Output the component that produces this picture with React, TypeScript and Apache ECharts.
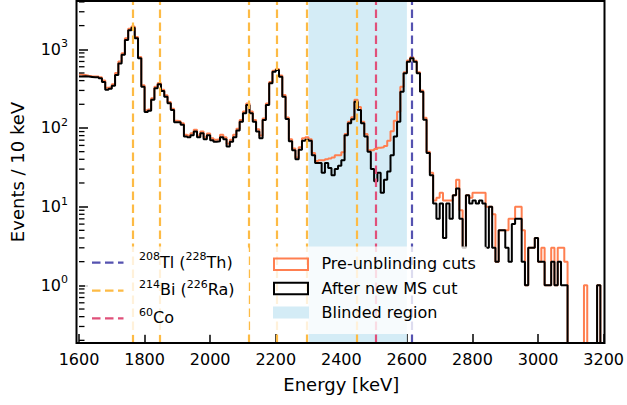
import React, { useEffect, useRef } from "react";
import * as echarts from "echarts";

const X_MIN = 1600;
const X_MAX = 3200;
const BIN_WIDTH = 10;
const Y_MIN = 0.185;
const Y_MAX = 4110;

// Events per 10 keV bin, 1600-3200 keV (160 bins), after new MS cut
const afterMsCut = [
  450, 455, 450, 445, 440, 440, 430, 385, 305, 315,
  345, 470, 660, 850, 1310, 1750, 1880, 1380, 770, 335,
  160, 165, 228, 320, 360, 295, 250, 206, 169, 118,
  118, 110, 78, 76, 81, 90, 76, 86, 72, 81,
  70, 67, 68, 76, 72, 58, 67, 76, 93, 120,
  154, 196, 154, 120, 90, 74, 126, 196, 370, 519,
  545, 449, 250, 130, 68, 52, 40, 53, 69, 71,
  69, 45, 36, 36, 27, 36, 31, 25, 30, 33,
  39, 81, 115, 129, 216, 169, 115, 78, 50, 30,
  21, 27, 15, 22, 28, 45, 78, 120, 289, 495,
  697, 769, 697, 495, 289, 127, 48, 25, 11, 7,
  11, 4, 11, 7, 14, 17, 7, 3, 14, 11,
  12, 11, 12, 11, 3, 10, 3, 2, 5, 5,
  3, 2, 6, 7, 7, 2, 1, 3, 3, 4,
  2, 2, 1, 1, 2, 1, 2, 1, 1, 0,
  0, 0, 0, 0, 0, 0, 0, 0, 1, 0,
];

// Events per 10 keV bin, pre-unblinding cuts
const preUnblinding = [
  480, 470, 462, 455, 450, 450, 440, 400, 325, 330,
  360, 500, 700, 890, 1380, 1820, 1950, 1430, 800, 350,
  168, 172, 238, 333, 372, 305, 260, 214, 176, 124,
  122, 115, 82, 80, 86, 95, 80, 90, 76, 85,
  74, 71, 72, 82, 76, 63, 71, 82, 98, 126,
  162, 205, 162, 126, 96, 80, 132, 205, 385, 535,
  560, 465, 262, 136, 72, 55, 42, 57, 74, 76,
  72, 48, 38, 39, 39, 40, 41, 42, 45, 45,
  49, 84, 120, 137, 228, 185, 120, 84, 52, 52,
  54, 56, 57, 59, 69, 91, 124, 161, 335, 510,
  720, 790, 715, 510, 300, 135, 50, 27, 12, 13,
  15, 12, 12, 12, 14, 22, 9, 3, 14, 13,
  15, 15, 15, 15, 10, 10, 8, 2, 5, 5,
  5, 7, 7, 10, 10, 5, 1, 3, 3, 4,
  2, 3, 1, 1, 3, 1, 3, 3, 2, 0,
  0, 0, 0, 0, 1, 0, 0, 0, 1, 0,
];

const tlLines = [2614.5];
const biLines = [1764.5, 1847.4, 2118.5, 2204.2, 2293.4, 2447.9];
const coLines = [2505.7];
const blindedRegion = [2300, 2600];

const yMinorTicks = [
  0.2, 0.3, 0.4, 0.5, 0.6, 0.7, 0.8, 0.9,
  2, 3, 4, 5, 6, 7, 8, 9,
  20, 30, 40, 50, 60, 70, 80, 90,
  200, 300, 400, 500, 600, 700, 800, 900,
  2000, 3000, 4000,
];

const FONT = "DejaVu Sans";
const C_TL = "#5552b0";
const C_BI = "#fdbb45";
const C_CO = "#e0507a";
const C_PRE = "#ff7f50";
const C_POST = "#000000";
const C_BLIND = "#d4ecf6";
const DASH = [8.5, 4.5];

const FLOOR = 1e-3;

function histPoints(values: number[]) {
  const pts = values.map((v, i) => [X_MIN + i * BIN_WIDTH, v > 0 ? v : FLOOR]);
  const last = values[values.length - 1];
  pts.push([X_MIN + values.length * BIN_WIDTH, last > 0 ? last : FLOOR]);
  return pts;
}

const GRID = { left: 76.5, top: 1, width: 528, height: 342 };

const supRich = {
  m: { fontSize: 16, lineHeight: 22, fontFamily: FONT, color: "#000" },
  s: { fontSize: 11, lineHeight: 8, verticalAlign: "top", fontFamily: FONT, color: "#000" },
};

export default function App() {
  const ref = useRef<HTMLDivElement>(null);

  useEffect(() => {
    document.body.style.margin = "0";
    if (!ref.current) return;
    const chart = echarts.init(ref.current, undefined, { renderer: "svg" });

    const vLine = (x: number, color: string) => ({
      xAxis: x,
      lineStyle: { color, type: DASH, width: 2.2, opacity: 1 },
    });

    const option: any = {
      animation: false,
      textStyle: { fontFamily: FONT },
      grid: { ...GRID, containLabel: false },
      xAxis: {
        type: "value",
        min: X_MIN,
        max: X_MAX,
        interval: 200,
        name: "Energy [keV]",
        nameLocation: "middle",
        nameGap: 32,
        nameTextStyle: { fontSize: 18, color: "#000", fontFamily: FONT },
        axisLine: { show: false },
        axisTick: { show: true, inside: true, length: 9, lineStyle: { color: "#000", width: 1.5 } },
        axisLabel: {
          fontSize: 16,
          color: "#000",
          margin: 8,
          fontFamily: FONT,
          formatter: (v: number) => String(v),
        },
        splitLine: { show: false },
      },
      yAxis: {
        type: "log",
        logBase: 10,
        min: Y_MIN,
        max: Y_MAX,
        name: "Events / 10 keV",
        nameLocation: "middle",
        nameGap: 53,
        nameTextStyle: { fontSize: 18, color: "#000", fontFamily: FONT },
        axisLine: { show: false },
        axisTick: { show: true, inside: true, length: 9, lineStyle: { color: "#000", width: 1.5 } },
        axisLabel: {
          margin: 11,
          formatter: (v: number) => {
            const e = Math.log10(v);
            const r = Math.round(e);
            if (Math.abs(e - r) > 1e-6) return "";
            return `{m|10}{s|${r}}`;
          },
          rich: supRich,
        },
        splitLine: { show: false },
        minorTick: { show: false },
      },
      series: [
        {
          type: "line",
          data: [],
          z: 1,
          silent: true,
          markArea: {
            silent: true,
            itemStyle: { color: C_BLIND },
            data: [[{ xAxis: blindedRegion[0] }, { xAxis: blindedRegion[1] }]],
          },
        },
        {
          type: "line",
          data: [],
          z: 2,
          silent: true,
          markLine: {
            silent: true,
            symbol: ["none", "none"],
            label: { show: false },
            lineStyle: { width: 2.2, type: DASH, opacity: 1 },
            emphasis: { disabled: true },
            data: [
              ...biLines.map((x) => vLine(x, C_BI)),
              ...coLines.map((x) => vLine(x, C_CO)),
              ...tlLines.map((x) => vLine(x, C_TL)),
            ],
          },
        },
        {
          name: "Pre-unblinding cuts",
          type: "line",
          step: "end",
          data: histPoints(preUnblinding),
          showSymbol: false,
          symbol: "none",
          clip: true,
          z: 3,
          lineStyle: { color: C_PRE, width: 2 },
        },
        {
          name: "After new MS cut",
          type: "line",
          step: "end",
          data: histPoints(afterMsCut),
          showSymbol: false,
          symbol: "none",
          clip: true,
          z: 4,
          lineStyle: { color: C_POST, width: 2 },
        },
        {
          type: "custom",
          z: 5,
          silent: true,
          clip: false,
          data: yMinorTicks.map((v) => [X_MIN, v]),
          encode: { x: 0, y: 1 },
          renderItem: (params: any, api: any) => {
            const p = api.coord([api.value(0), api.value(1)]);
            return {
              type: "line",
              shape: { x1: p[0], y1: p[1], x2: p[0] + 5.5, y2: p[1] },
              style: { stroke: "#000", lineWidth: 1.3 },
            };
          },
        },
      ],
      graphic: [
        {
          type: "rect",
          z: 100,
          silent: true,
          shape: { x: GRID.left, y: GRID.top, width: GRID.width, height: GRID.height },
          style: { fill: "none", stroke: "#000", lineWidth: 2 },
        },
        // left legend
        {
          type: "rect",
          z: 90,
          silent: true,
          shape: { x: 85, y: 246.5, width: 164, height: 88.5, r: 3 },
          style: { fill: "rgba(255,255,255,0.8)" },
        },
        {
          type: "line", z: 91, silent: true,
          shape: { x1: 92, y1: 262.7, x2: 123.5, y2: 262.7 },
          style: { stroke: C_TL, lineWidth: 2.2, lineDash: DASH },
        },
        {
          type: "line", z: 91, silent: true,
          shape: { x1: 92, y1: 290.7, x2: 123.5, y2: 290.7 },
          style: { stroke: C_BI, lineWidth: 2.2, lineDash: DASH },
        },
        {
          type: "line", z: 91, silent: true,
          shape: { x1: 92, y1: 318.3, x2: 123.5, y2: 318.3 },
          style: { stroke: C_CO, lineWidth: 2.2, lineDash: DASH },
        },
        {
          type: "text", z: 91, silent: true,
          style: { x: 139, y: 262, text: "{s|208}{m|Tl (}{s|228}{m|Th)}", rich: supRich, verticalAlign: "middle", align: "left" },
        },
        {
          type: "text", z: 91, silent: true,
          style: { x: 139, y: 289.5, text: "{s|214}{m|Bi (}{s|226}{m|Ra)}", rich: supRich, verticalAlign: "middle", align: "left" },
        },
        {
          type: "text", z: 91, silent: true,
          style: { x: 139, y: 317.5, text: "{s|60}{m|Co}", rich: supRich, verticalAlign: "middle", align: "left" },
        },
        // right legend
        {
          type: "rect",
          z: 90,
          silent: true,
          shape: { x: 266, y: 246.5, width: 221, height: 87.5, r: 3 },
          style: { fill: "rgba(255,255,255,0.8)" },
        },
        {
          type: "rect", z: 91, silent: true,
          shape: { x: 274, y: 258.5, width: 34, height: 11.5 },
          style: { fill: "none", stroke: C_PRE, lineWidth: 2 },
        },
        {
          type: "rect", z: 91, silent: true,
          shape: { x: 274, y: 282.7, width: 34, height: 11.5 },
          style: { fill: "none", stroke: C_POST, lineWidth: 2 },
        },
        {
          type: "rect", z: 91, silent: true,
          shape: { x: 273, y: 306.5, width: 36, height: 12 },
          style: { fill: C_BLIND },
        },
        {
          type: "text", z: 91, silent: true,
          style: { x: 321.5, y: 263.5, text: "Pre-unblinding cuts", fontSize: 16, fontFamily: FONT, fill: "#000", verticalAlign: "middle" },
        },
        {
          type: "text", z: 91, silent: true,
          style: { x: 321.5, y: 288, text: "After new MS cut", fontSize: 16, fontFamily: FONT, fill: "#000", verticalAlign: "middle" },
        },
        {
          type: "text", z: 91, silent: true,
          style: { x: 321.5, y: 312, text: "Blinded region", fontSize: 16, fontFamily: FONT, fill: "#000", verticalAlign: "middle" },
        },
      ],
    };

    chart.setOption(option);
    return () => chart.dispose();
  }, []);

  return <div ref={ref} style={{ width: 627, height: 405 }} />;
}
